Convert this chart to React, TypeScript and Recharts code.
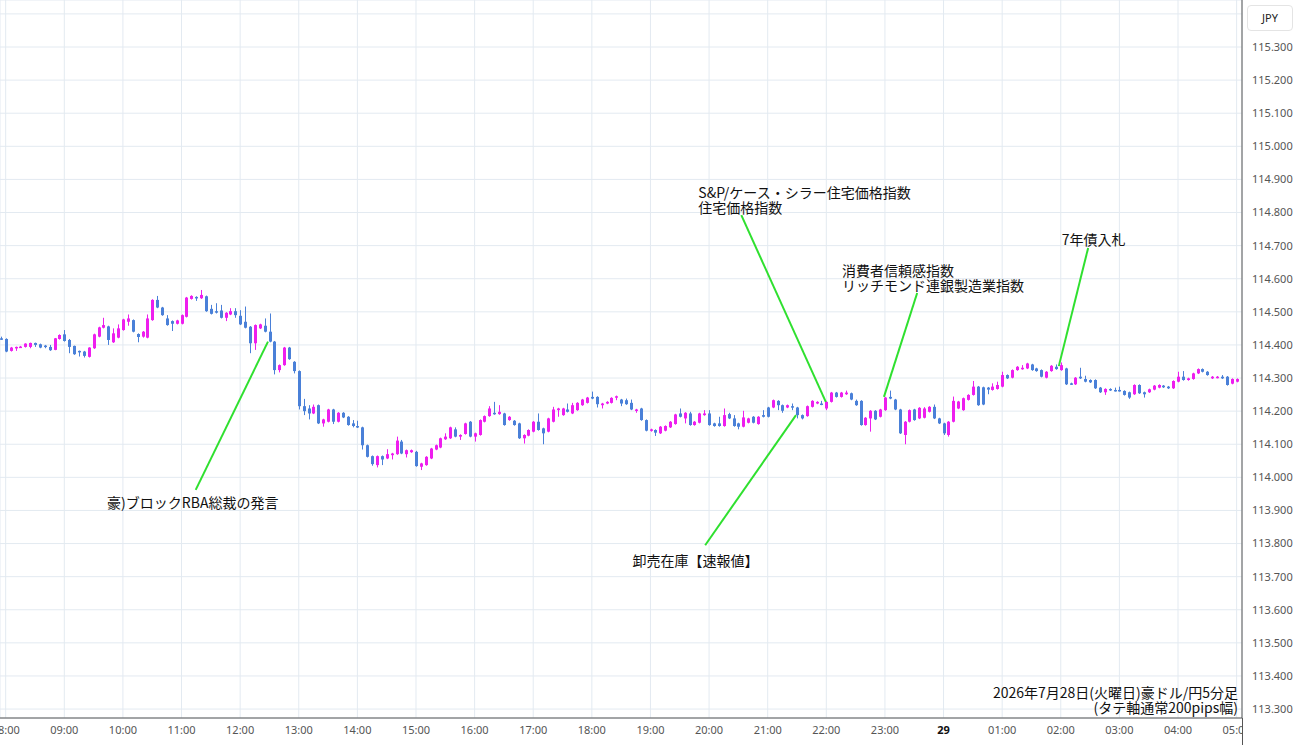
import React from "react";
import {
  ComposedChart,
  Bar,
  XAxis,
  YAxis,
  CartesianGrid,
  ReferenceLine,
  ReferenceDot,
} from "recharts";

// 5-minute slots counted from 08:00 (slot -1 = 07:55)
const FIRST_SLOT = -1;

const opens = [
  114.420, 114.418, 114.382, 114.390, 114.393, 114.394, 114.394, 114.406, 114.402, 114.398,
  114.394, 114.385, 114.418, 114.432, 114.415, 114.397, 114.382, 114.380, 114.364, 114.390,
  114.425, 114.452, 114.456, 114.408, 114.422, 114.445, 114.470, 114.475, 114.433, 114.425,
  114.422, 114.475, 114.536, 114.513, 114.480, 114.472, 114.464, 114.464, 114.485, 114.539,
  114.545, 114.541, 114.547, 114.509, 114.502, 114.504, 114.482, 114.492, 114.502, 114.488,
  114.470, 114.455, 114.405, 114.450, 114.458, 114.440, 114.410, 114.324, 114.339, 114.392,
  114.349, 114.321, 114.215, 114.208, 114.193, 114.218, 114.163, 114.168, 114.205, 114.168,
  114.195, 114.183, 114.163, 114.155, 114.151, 114.097, 114.064, 114.037, 114.064, 114.057,
  114.067, 114.070, 114.108, 114.070, 114.076, 114.077, 114.032, 114.037, 114.057, 114.084,
  114.090, 114.115, 114.118, 114.145, 114.123, 114.131, 114.168, 114.123, 114.128, 114.168,
  114.185, 114.195, 114.191, 114.193, 114.173, 114.171, 114.163, 114.118, 114.126, 114.138,
  114.168, 114.148, 114.138, 114.168, 114.203, 114.188, 114.205, 114.193, 114.203, 114.218,
  114.225, 114.243, 114.243, 114.218, 114.223, 114.225, 114.241, 114.235, 114.233, 114.225,
  114.203, 114.208, 114.173, 114.141, 114.143, 114.133, 114.141, 114.151, 114.161, 114.193,
  114.178, 114.193, 114.158, 114.165, 114.188, 114.193, 114.163, 114.163, 114.155, 114.191,
  114.178, 114.163, 114.153, 114.165, 114.183, 114.161, 114.188, 114.211, 114.211, 114.231,
  114.218, 114.211, 114.215, 114.211, 114.188, 114.185, 114.213, 114.223, 114.223, 114.208,
  114.228, 114.256, 114.243, 114.251, 114.254, 114.231, 114.231, 114.158, 114.178, 114.201,
  114.183, 114.203, 114.243, 114.235, 114.205, 114.128, 114.168, 114.205, 114.178, 114.180,
  114.198, 114.213, 114.178, 114.163, 114.128, 114.168, 114.208, 114.203, 114.234, 114.249,
  114.274, 114.272, 114.271, 114.264, 114.267, 114.274, 114.309, 114.301, 114.324, 114.327,
  114.329, 114.341, 114.329, 114.324, 114.301, 114.321, 114.334, 114.324, 114.329, 114.284,
  114.281, 114.304, 114.297, 114.294, 114.294, 114.271, 114.257, 114.267, 114.264, 114.264,
  114.261, 114.257, 114.251, 114.279, 114.257, 114.257, 114.265, 114.271, 114.277, 114.274,
  114.269, 114.289, 114.304, 114.294, 114.297, 114.314, 114.327, 114.319, 114.299, 114.301,
  114.304, 114.304, 114.283, 114.289,
];

const highs = [
  114.425, 114.420, 114.394, 114.395, 114.397, 114.405, 114.407, 114.407, 114.404, 114.400,
  114.400, 114.421, 114.432, 114.445, 114.418, 114.398, 114.383, 114.382, 114.393, 114.434,
  114.455, 114.482, 114.458, 114.450, 114.462, 114.479, 114.492, 114.477, 114.435, 114.442,
  114.492, 114.538, 114.548, 114.515, 114.490, 114.474, 114.476, 114.492, 114.545, 114.550,
  114.547, 114.566, 114.549, 114.521, 114.526, 114.521, 114.499, 114.511, 114.511, 114.505,
  114.516, 114.457, 114.462, 114.464, 114.480, 114.495, 114.412, 114.341, 114.394, 114.394,
  114.351, 114.323, 114.237, 114.218, 114.220, 114.220, 114.177, 114.207, 114.207, 114.197,
  114.197, 114.185, 114.173, 114.171, 114.153, 114.099, 114.066, 114.066, 114.066, 114.085,
  114.074, 114.123, 114.113, 114.084, 114.084, 114.080, 114.044, 114.064, 114.089, 114.099,
  114.120, 114.133, 114.153, 114.151, 114.130, 114.165, 114.170, 114.135, 114.175, 114.187,
  114.215, 114.228, 114.218, 114.195, 114.185, 114.173, 114.165, 114.130, 114.145, 114.170,
  114.193, 114.150, 114.180, 114.213, 114.210, 114.210, 114.223, 114.225, 114.227, 114.237,
  114.243, 114.259, 114.245, 114.225, 114.230, 114.242, 114.247, 114.237, 114.238, 114.235,
  114.207, 114.210, 114.175, 114.147, 114.145, 114.155, 114.157, 114.170, 114.192, 114.208,
  114.197, 114.198, 114.170, 114.195, 114.203, 114.203, 114.165, 114.183, 114.208, 114.195,
  114.188, 114.165, 114.201, 114.180, 114.185, 114.185, 114.203, 114.213, 114.235, 114.233,
  114.220, 114.220, 114.223, 114.213, 114.190, 114.217, 114.233, 114.230, 114.231, 114.230,
  114.258, 114.258, 114.258, 114.262, 114.256, 114.235, 114.233, 114.182, 114.203, 114.203,
  114.207, 114.243, 114.262, 114.237, 114.207, 114.170, 114.205, 114.207, 114.212, 114.212,
  114.215, 114.220, 114.180, 114.165, 114.170, 114.244, 114.231, 114.241, 114.251, 114.291,
  114.276, 114.274, 114.273, 114.284, 114.289, 114.319, 114.311, 114.326, 114.336, 114.339,
  114.346, 114.343, 114.331, 114.326, 114.321, 114.339, 114.341, 114.347, 114.331, 114.286,
  114.303, 114.331, 114.307, 114.296, 114.296, 114.273, 114.269, 114.269, 114.271, 114.274,
  114.263, 114.259, 114.281, 114.281, 114.259, 114.268, 114.279, 114.281, 114.279, 114.276,
  114.293, 114.319, 114.321, 114.301, 114.316, 114.329, 114.329, 114.321, 114.306, 114.306,
  114.309, 114.306, 114.299, 114.299,
];

const lows = [
  114.415, 114.378, 114.380, 114.382, 114.391, 114.392, 114.390, 114.394, 114.390, 114.390,
  114.382, 114.384, 114.416, 114.410, 114.375, 114.370, 114.365, 114.362, 114.362, 114.388,
  114.423, 114.450, 114.400, 114.406, 114.420, 114.443, 114.458, 114.438, 114.408, 114.422,
  114.420, 114.473, 114.511, 114.488, 114.458, 114.442, 114.462, 114.462, 114.483, 114.537,
  114.533, 114.539, 114.500, 114.492, 114.495, 114.480, 114.472, 114.490, 114.482, 114.460,
  114.450, 114.375, 114.385, 114.448, 114.438, 114.408, 114.311, 114.317, 114.337, 114.355,
  114.314, 114.205, 114.188, 114.175, 114.191, 114.161, 114.153, 114.166, 114.161, 114.166,
  114.179, 114.156, 114.151, 114.149, 114.084, 114.060, 114.035, 114.030, 114.037, 114.055,
  114.054, 114.068, 114.070, 114.060, 114.074, 114.032, 114.022, 114.035, 114.055, 114.082,
  114.088, 114.113, 114.116, 114.121, 114.113, 114.129, 114.121, 114.108, 114.126, 114.166,
  114.183, 114.189, 114.189, 114.156, 114.171, 114.156, 114.116, 114.102, 114.124, 114.136,
  114.141, 114.100, 114.136, 114.166, 114.183, 114.186, 114.196, 114.191, 114.201, 114.216,
  114.223, 114.236, 114.211, 114.208, 114.221, 114.223, 114.233, 114.215, 114.219, 114.203,
  114.195, 114.171, 114.139, 114.138, 114.125, 114.131, 114.139, 114.149, 114.159, 114.181,
  114.163, 114.156, 114.156, 114.163, 114.186, 114.156, 114.153, 114.153, 114.153, 114.176,
  114.153, 114.145, 114.151, 114.163, 114.163, 114.159, 114.181, 114.181, 114.209, 114.203,
  114.195, 114.209, 114.203, 114.178, 114.175, 114.183, 114.211, 114.221, 114.218, 114.203,
  114.226, 114.241, 114.241, 114.249, 114.233, 114.216, 114.156, 114.156, 114.138, 114.173,
  114.181, 114.201, 114.236, 114.203, 114.131, 114.100, 114.166, 114.171, 114.176, 114.178,
  114.196, 114.176, 114.161, 114.128, 114.123, 114.166, 114.206, 114.201, 114.232, 114.247,
  114.216, 114.218, 114.251, 114.262, 114.265, 114.272, 114.297, 114.299, 114.322, 114.325,
  114.327, 114.322, 114.319, 114.302, 114.299, 114.319, 114.325, 114.322, 114.279, 114.279,
  114.279, 114.297, 114.287, 114.285, 114.267, 114.255, 114.249, 114.261, 114.259, 114.259,
  114.247, 114.237, 114.249, 114.252, 114.241, 114.255, 114.263, 114.269, 114.270, 114.267,
  114.267, 114.287, 114.292, 114.292, 114.295, 114.312, 114.317, 114.307, 114.297, 114.299,
  114.297, 114.277, 114.281, 114.287,
];

const closes = [
  114.418, 114.380, 114.392, 114.394, 114.395, 114.404, 114.406, 114.400, 114.392, 114.394,
  114.384, 114.420, 114.430, 114.412, 114.394, 114.372, 114.378, 114.367, 114.392, 114.432,
  114.453, 114.460, 114.415, 114.435, 114.450, 114.477, 114.480, 114.440, 114.424, 114.440,
  114.480, 114.536, 114.513, 114.490, 114.460, 114.464, 114.474, 114.490, 114.543, 114.548,
  114.541, 114.551, 114.502, 114.494, 114.500, 114.482, 114.497, 114.502, 114.490, 114.462,
  114.452, 114.405, 114.460, 114.462, 114.440, 114.410, 114.324, 114.339, 114.392, 114.357,
  114.321, 114.215, 114.200, 114.193, 114.213, 114.163, 114.175, 114.205, 114.168, 114.195,
  114.181, 114.158, 114.155, 114.151, 114.097, 114.062, 114.040, 114.064, 114.054, 114.070,
  114.072, 114.111, 114.072, 114.082, 114.082, 114.034, 114.042, 114.062, 114.087, 114.097,
  114.118, 114.123, 114.151, 114.123, 114.128, 114.163, 114.123, 114.133, 114.173, 114.185,
  114.208, 114.191, 114.198, 114.158, 114.183, 114.158, 114.118, 114.128, 114.143, 114.168,
  114.143, 114.133, 114.178, 114.205, 114.208, 114.208, 114.198, 114.218, 114.225, 114.235,
  114.241, 114.238, 114.221, 114.223, 114.228, 114.240, 114.245, 114.223, 114.221, 114.205,
  114.205, 114.173, 114.141, 114.145, 114.135, 114.153, 114.155, 114.168, 114.190, 114.183,
  114.195, 114.158, 114.168, 114.193, 114.193, 114.158, 114.155, 114.155, 114.188, 114.178,
  114.155, 114.153, 114.181, 114.178, 114.165, 114.183, 114.183, 114.183, 114.233, 114.218,
  114.201, 114.218, 114.211, 114.188, 114.178, 114.215, 114.231, 114.228, 114.220, 114.228,
  114.256, 114.243, 114.256, 114.256, 114.235, 114.218, 114.158, 114.180, 114.201, 114.175,
  114.205, 114.241, 114.238, 114.205, 114.133, 114.168, 114.203, 114.173, 114.210, 114.208,
  114.213, 114.178, 114.163, 114.133, 114.168, 114.231, 114.229, 114.239, 114.249, 114.274,
  114.218, 114.220, 114.265, 114.274, 114.279, 114.309, 114.299, 114.324, 114.334, 114.331,
  114.344, 114.324, 114.321, 114.304, 114.319, 114.337, 114.327, 114.339, 114.281, 114.281,
  114.301, 114.299, 114.289, 114.287, 114.269, 114.257, 114.267, 114.263, 114.261, 114.261,
  114.249, 114.241, 114.279, 114.254, 114.251, 114.266, 114.277, 114.279, 114.272, 114.269,
  114.291, 114.304, 114.294, 114.299, 114.314, 114.327, 114.319, 114.309, 114.304, 114.304,
  114.299, 114.279, 114.297, 114.297,
];

// one label per hour (every 12 slots)
const hourLabels = [
  "08:00", "09:00", "10:00", "11:00", "12:00", "13:00", "14:00", "15:00", "16:00",
  "17:00", "18:00", "19:00", "20:00", "21:00", "22:00", "23:00", "29", "01:00",
  "02:00", "03:00", "04:00", "05:00",
];

const priceTicks = [
  113.3, 113.4, 113.5, 113.6, 113.7, 113.8, 113.9, 114.0, 114.1, 114.2, 114.3,
  114.4, 114.5, 114.6, 114.7, 114.8, 114.9, 115.0, 115.1, 115.2, 115.3, 115.4,
];

// event notes: text lines, label anchor [slot, price], line [slot, price] -> [slot, price]
const noteTexts = [
  ["豪)ブロックRBA総裁の発言"],
  ["卸売在庫【速報値】"],
  ["S&P/ケース・シラー住宅価格指数", "住宅価格指数"],
  ["消費者信頼感指数", "リッチモンド連銀製造業指数"],
  ["7年債入札"],
];
const noteLabelAt = [
  [38.3, 113.925],
  [141.2, 113.75],
  [141.8, 114.862],
  [171.2, 114.625],
  [216.2, 114.72],
];
const noteAnchor = ["middle", "middle", "start", "start", "start"];
const noteLineFrom = [
  [38.9, 113.962],
  [143.2, 113.795],
  [150.6, 114.792],
  [186.6, 114.557],
  [221.6, 114.693],
];
const noteLineTo = [
  [53.7, 114.41],
  [161.8, 114.188],
  [167.9, 114.228],
  [179.8, 114.243],
  [215.6, 114.336],
];

const UP = "#ee1eee";
const DOWN = "#4a80d8";
const NOTE_GREEN = "#2fe02f";
const GRID = "#e3eaf1";
const JP_FONT = "'Noto Sans CJK JP', 'Noto Sans', sans-serif";

const candles = opens.map((o, i) => ({
  t: FIRST_SLOT + i,
  range: [lows[i], highs[i]],
  open: o,
  close: closes[i],
}));

function Candle(props: any) {
  const { x, y, width, height, payload } = props;
  if (!payload || height == null) return null;
  const up = payload.close >= payload.open;
  const color = up ? UP : DOWN;
  const top = Math.min(y, y + height);
  const h = Math.abs(height);
  const [lo, hi] = payload.range;
  const span = hi - lo || 1e-9;
  const py = (p: number) => top + ((hi - p) / span) * h;
  const cx = Math.round(x + width / 2) + 0.5;
  const bTop = py(Math.max(payload.open, payload.close));
  const bBot = py(Math.min(payload.open, payload.close));
  return (
    <g>
      <line x1={cx} x2={cx} y1={top} y2={top + Math.max(h, 1)} stroke={color} strokeWidth={1} />
      <rect x={cx - 1.5} y={bTop} width={3} height={Math.max(1.5, bBot - bTop)} fill={color} />
    </g>
  );
}

function HourTick(props: any) {
  const { x, y, payload } = props;
  const label = hourLabels[Math.round(payload.value / 12)];
  const bold = label === "29";
  const id = "xclip" + payload.value;
  return (
    <g>
      <defs>
        <clipPath id={id}>
          <rect x={0} y={y - 12} width={1242} height={40} />
        </clipPath>
      </defs>
      <text
        x={x}
        y={y}
        dy="0.71em"
        textAnchor="middle"
        clipPath={`url(#${id})`}
        fontSize={11}
        fontFamily="'Noto Sans', sans-serif"
        fontWeight={bold ? 700 : 400}
        fill={bold ? "#111" : "#555"}
      >
        {label}
      </text>
    </g>
  );
}

function noteShape(i: number) {
  return (p: any) => {
    const lines = noteTexts[i];
    return (
      <text
        x={p.cx}
        y={p.cy}
        textAnchor={noteAnchor[i]}
        dominantBaseline="central"
        fontSize={14}
        fontFamily={JP_FONT}
        fill="#111"
      >
        {lines.map((s, j) => (
          <tspan key={j} x={p.cx} dy={j === 0 ? 0 : 15}>
            {s}
          </tspan>
        ))}
      </text>
    );
  };
}

export default function App() {
  return (
    <div
      style={{
        position: "absolute",
        left: 0,
        top: 0,
        width: 1300,
        height: 745,
        background: "#fff",
        overflow: "hidden",
      }}
    >
      <ComposedChart
        width={1300}
        height={745}
        data={candles}
        margin={{ top: 0, right: 0, bottom: 0, left: 0 }}
      >
        <CartesianGrid stroke={GRID} />
        <XAxis
          dataKey="t"
          type="number"
          domain={[-1.163, 253.1]}
          allowDataOverflow
          ticks={hourLabels.map((_, i) => i * 12)}
          interval={0}
          height={27}
          tickSize={0}
          tickMargin={8}
          tick={<HourTick />}
          axisLine={{ stroke: "#555" }}
        />
        <YAxis
          orientation="right"
          type="number"
          domain={[113.273, 115.442]}
          allowDataOverflow
          ticks={priceTicks}
          interval={0}
          width={58}
          tickSize={0}
          tickMargin={10}
          tickFormatter={(v: number) => (v > 115.35 ? "" : v.toFixed(3))}
          tick={{ fontSize: 11, fill: "#555", fontFamily: "'Noto Sans', sans-serif" }}
          axisLine={{ stroke: "#555" }}
        />
        <Bar
          dataKey="range"
          barSize={3}
          shape={<Candle />}
          isAnimationActive={false}
        />
        {noteTexts.map((_, i) => (
          <ReferenceLine
            key={"l" + i}
            segment={[
              { x: noteLineFrom[i][0], y: noteLineFrom[i][1] },
              { x: noteLineTo[i][0], y: noteLineTo[i][1] },
            ]}
            stroke={NOTE_GREEN}
            strokeWidth={2}
            ifOverflow="visible"
          />
        ))}
        {noteTexts.map((_, i) => (
          <ReferenceDot
            key={"t" + i}
            x={noteLabelAt[i][0]}
            y={noteLabelAt[i][1]}
            r={0}
            ifOverflow="visible"
            shape={noteShape(i)}
          />
        ))}
      </ComposedChart>
      {/* axis line continues through the time-label band */}
      <div
        style={{
          position: "absolute",
          left: 1242,
          top: 718,
          width: 1,
          height: 27,
          background: "#555",
        }}
      />
      <div
        style={{
          position: "absolute",
          left: 1247,
          top: 5,
          width: 44,
          height: 24,
          border: "1px solid #e4e4e4",
          borderRadius: 4,
          background: "#fff",
          fontFamily: "'Noto Sans', sans-serif",
          fontSize: 11,
          color: "#222",
          lineHeight: "24px",
          textAlign: "center",
        }}
      >
        JPY
      </div>
      <div
        style={{
          position: "absolute",
          right: 62,
          top: 685,
          textAlign: "right",
          fontFamily: JP_FONT,
          fontSize: 14,
          lineHeight: "15px",
          color: "#111",
        }}
      >
        <div>2026年7月28日(火曜日)豪ドル/円5分足</div>
        <div>(タテ軸通常200pips幅)</div>
      </div>
    </div>
  );
}
